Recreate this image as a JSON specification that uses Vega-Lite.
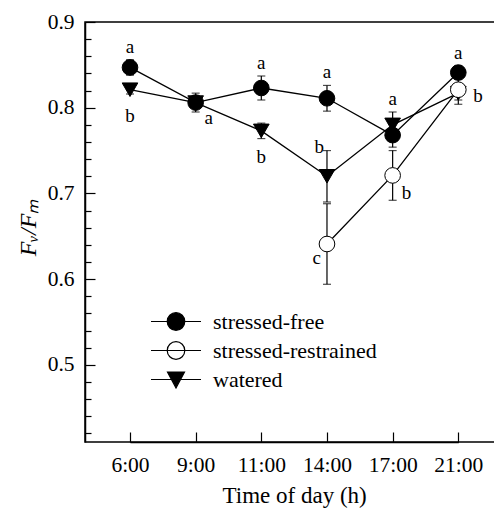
{
  "$schema": "https://vega.github.io/schema/vega-lite/v6.json",
  "width": 410,
  "height": 420,
  "autosize": "none",
  "padding": {"left": 85, "top": 22, "right": 0, "bottom": 69},
  "background": "white",
  "config": {
    "view": {"stroke": "black", "strokeWidth": 1.5},
    "font": "Liberation Serif",
    "axis": {
      "domainColor": "black", "domainWidth": 1.5,
      "tickColor": "black", "tickWidth": 1.2,
      "labelColor": "black", "titleColor": "black",
      "labelFont": "Liberation Serif", "titleFont": "Liberation Serif",
      "titleFontWeight": "normal", "grid": false
    },
    "legend": {
      "labelFont": "Liberation Serif", "labelColor": "black", "labelLimit": 400
    }
  },
  "data": {"values": [
    {"time": "6:00", "hour": 6, "series": "stressed-free", "mean": 0.847, "lo": 0.838, "hi": 0.856, "letter": "a", "pos": "above"},
    {"time": "9:00", "hour": 9, "series": "stressed-free", "mean": 0.806, "lo": 0.795, "hi": 0.817, "letter": "a", "pos": "belowright"},
    {"time": "11:00", "hour": 11, "series": "stressed-free", "mean": 0.823, "lo": 0.809, "hi": 0.837, "letter": "a", "pos": "above"},
    {"time": "14:00", "hour": 14, "series": "stressed-free", "mean": 0.811, "lo": 0.796, "hi": 0.826, "letter": "a", "pos": "above"},
    {"time": "17:00", "hour": 17, "series": "stressed-free", "mean": 0.768, "lo": 0.754, "hi": 0.782, "letter": "", "pos": "none"},
    {"time": "21:00", "hour": 21, "series": "stressed-free", "mean": 0.841, "lo": 0.833, "hi": 0.849, "letter": "a", "pos": "above"},
    {"time": "6:00", "hour": 6, "series": "watered", "mean": 0.821, "lo": 0.816, "hi": 0.826, "letter": "b", "pos": "below"},
    {"time": "9:00", "hour": 9, "series": "watered", "mean": 0.806, "lo": 0.8, "hi": 0.812, "letter": "", "pos": "none"},
    {"time": "11:00", "hour": 11, "series": "watered", "mean": 0.773, "lo": 0.764, "hi": 0.782, "letter": "b", "pos": "below"},
    {"time": "14:00", "hour": 14, "series": "watered", "mean": 0.72, "lo": 0.69, "hi": 0.75, "letter": "b", "pos": "lefttop"},
    {"time": "17:00", "hour": 17, "series": "watered", "mean": 0.78, "lo": 0.765, "hi": 0.795, "letter": "a", "pos": "above"},
    {"time": "21:00", "hour": 21, "series": "watered", "mean": 0.817, "lo": 0.809, "hi": 0.825, "letter": "", "pos": "none"},
    {"time": "14:00", "hour": 14, "series": "stressed-restrained", "mean": 0.641, "lo": 0.594, "hi": 0.688, "letter": "c", "pos": "leftbelow"},
    {"time": "17:00", "hour": 17, "series": "stressed-restrained", "mean": 0.721, "lo": 0.692, "hi": 0.75, "letter": "b", "pos": "rightbelow"},
    {"time": "21:00", "hour": 21, "series": "stressed-restrained", "mean": 0.821, "lo": 0.804, "hi": 0.838, "letter": "b", "pos": "right"}
  ]},
  "encoding": {
    "x": {
      "field": "time", "type": "ordinal",
      "scale": {"type": "point", "domain": ["6:00", "9:00", "11:00", "14:00", "17:00", "21:00"], "range": [45, 373.3], "padding": 0},
      "axis": {
        "title": "Time of day (h)", "titleFontSize": 23, "titlePadding": 9,
        "labelFontSize": 21.5, "labelPadding": 22, "tickSize": -10,
        "labelAngle": 0, "labelFlush": false, "labelOverlap": false
      }
    }
  },
  "layer": [
    {
      "mark": {"type": "line", "stroke": "black", "strokeWidth": 1.3},
      "encoding": {
        "y": {
          "field": "mean", "type": "quantitative",
          "scale": {"domain": [0.41, 0.9], "nice": false, "zero": false},
          "axis": {
            "orient": "left", "values": [0.5, 0.6, 0.7, 0.8, 0.9], "tickSize": -10,
            "labelPadding": 21, "labelFontSize": 21.5, "format": ".1f",
            "title": "Fᵥ/Fₘ", "titleFontSize": 24, "titleFontStyle": "italic", "titlePadding": 7, "titleY": 205
          }
        },
        "detail": {"field": "series", "type": "nominal"},
        "order": {"field": "hour", "type": "quantitative"}
      }
    },
    {
      "mark": {"type": "rule", "stroke": "black", "strokeWidth": 1.2},
      "encoding": {
        "y": {
          "field": "lo", "type": "quantitative",
          "axis": {
            "orient": "left", "values": [0.42, 0.44, 0.46, 0.48, 0.52, 0.54, 0.56, 0.58, 0.62, 0.64, 0.66, 0.68, 0.72, 0.74, 0.76, 0.78, 0.82, 0.84, 0.86, 0.88],
            "tickSize": -6, "labels": false, "domain": false, "title": null
          }
        },
        "y2": {"field": "hi"}
      }
    },
    {
      "mark": {"type": "tick", "color": "black", "size": 8, "thickness": 1.2},
      "encoding": {"y": {"field": "lo", "type": "quantitative", "axis": null}}
    },
    {
      "mark": {"type": "tick", "color": "black", "size": 8, "thickness": 1.2},
      "encoding": {"y": {"field": "hi", "type": "quantitative", "axis": null}}
    },
    {
      "mark": {"type": "point", "filled": true, "stroke": "black", "strokeWidth": 1, "opacity": 1},
      "encoding": {
        "y": {"field": "mean", "type": "quantitative", "axis": null},
        "shape": {"field": "series", "type": "nominal", "scale": {"domain": ["stressed-free", "stressed-restrained", "watered"], "range": ["circle", "circle", "triangle-down"]}, "legend": null},
        "fill": {"field": "series", "type": "nominal", "scale": {"domain": ["stressed-free", "stressed-restrained", "watered"], "range": ["black", "white", "black"]}, "legend": null},
        "size": {"field": "series", "type": "ordinal", "scale": {"domain": ["stressed-free", "stressed-restrained", "watered"], "range": [245, 245, 300]}, "legend": null}
      }
    },
    {
      "mark": {"type": "point", "filled": true, "strokeWidth": 1.2, "opacity": 0},
      "encoding": {
        "y": {"field": "mean", "type": "quantitative", "axis": null},
        "shape": {
          "field": "series", "type": "nominal",
          "scale": {"domain": ["stressed-free", "stressed-restrained", "watered"], "range": [
            "M-1,0L1,0M0.352,0A0.352,0.352,0,1,1,-0.352,0A0.352,0.352,0,1,1,0.352,0Z",
            "M-1,0L1,0M0.352,0A0.352,0.352,0,1,1,-0.352,0A0.352,0.352,0,1,1,0.352,0Z",
            "M-1,0L1,0M-0.34,-0.3L0.34,-0.3L0,0.34Z"]},
          "legend": {
            "title": null, "orient": "none", "legendX": 65, "legendY": 285,
            "symbolSize": 2500, "symbolStrokeWidth": 1.2, "symbolOpacity": 1, "labelLimit": 400,
            "labelFontSize": 22, "labelOffset": 11, "clipHeight": 29, "rowPadding": 0, "padding": 0
          }
        },
        "fill": {
          "field": "series", "type": "nominal",
          "scale": {"domain": ["stressed-free", "stressed-restrained", "watered"], "range": ["black", "white", "black"]},
          "legend": {
            "title": null, "orient": "none", "legendX": 65, "legendY": 285,
            "symbolSize": 2500, "symbolStrokeWidth": 1.2, "symbolOpacity": 1, "labelLimit": 400,
            "labelFontSize": 22, "labelOffset": 11, "clipHeight": 29, "rowPadding": 0, "padding": 0
          }
        },
        "stroke": {
          "field": "series", "type": "nominal",
          "scale": {"domain": ["stressed-free", "stressed-restrained", "watered"], "range": ["black", "black", "black"]},
          "legend": {
            "title": null, "orient": "none", "legendX": 65, "legendY": 285,
            "symbolSize": 2500, "symbolStrokeWidth": 1.2, "symbolOpacity": 1, "labelLimit": 400,
            "labelFontSize": 22, "labelOffset": 11, "clipHeight": 29, "rowPadding": 0, "padding": 0
          }
        }
      }
    },
    {
      "transform": [{"filter": "datum.pos === 'above'"}],
      "mark": {"type": "text", "font": "Liberation Serif", "fontSize": 19, "color": "black", "align": "center", "baseline": "alphabetic", "dy": -7},
      "encoding": {"y": {"field": "hi", "type": "quantitative", "axis": null}, "text": {"field": "letter"}}
    },
    {
      "transform": [{"filter": "datum.pos === 'below'"}],
      "mark": {"type": "text", "font": "Liberation Serif", "fontSize": 19, "color": "black", "align": "center", "baseline": "alphabetic", "dy": 32},
      "encoding": {"y": {"field": "mean", "type": "quantitative", "axis": null}, "text": {"field": "letter"}}
    },
    {
      "transform": [{"filter": "datum.pos === 'belowright'"}],
      "mark": {"type": "text", "font": "Liberation Serif", "fontSize": 19, "color": "black", "align": "center", "baseline": "alphabetic", "dx": 13, "dy": 21},
      "encoding": {"y": {"field": "mean", "type": "quantitative", "axis": null}, "text": {"field": "letter"}}
    },
    {
      "transform": [{"filter": "datum.pos === 'lefttop'"}],
      "mark": {"type": "text", "font": "Liberation Serif", "fontSize": 19, "color": "black", "align": "right", "baseline": "alphabetic", "dx": -3, "dy": 2},
      "encoding": {"y": {"field": "hi", "type": "quantitative", "axis": null}, "text": {"field": "letter"}}
    },
    {
      "transform": [{"filter": "datum.pos === 'leftbelow'"}],
      "mark": {"type": "text", "font": "Liberation Serif", "fontSize": 19, "color": "black", "align": "right", "baseline": "alphabetic", "dx": -6, "dy": 20},
      "encoding": {"y": {"field": "mean", "type": "quantitative", "axis": null}, "text": {"field": "letter"}}
    },
    {
      "transform": [{"filter": "datum.pos === 'rightbelow'"}],
      "mark": {"type": "text", "font": "Liberation Serif", "fontSize": 19, "color": "black", "align": "left", "baseline": "alphabetic", "dx": 9, "dy": 24},
      "encoding": {"y": {"field": "mean", "type": "quantitative", "axis": null}, "text": {"field": "letter"}}
    },
    {
      "transform": [{"filter": "datum.pos === 'right'"}],
      "mark": {"type": "text", "font": "Liberation Serif", "fontSize": 19, "color": "black", "align": "left", "baseline": "alphabetic", "dx": 15, "dy": 12},
      "encoding": {"y": {"field": "mean", "type": "quantitative", "axis": null}, "text": {"field": "letter"}}
    }
  ],
  "resolve": {
    "scale": {"shape": "independent", "fill": "independent", "size": "independent", "stroke": "independent"},
    "axis": {"y": "independent"}
  }
}
